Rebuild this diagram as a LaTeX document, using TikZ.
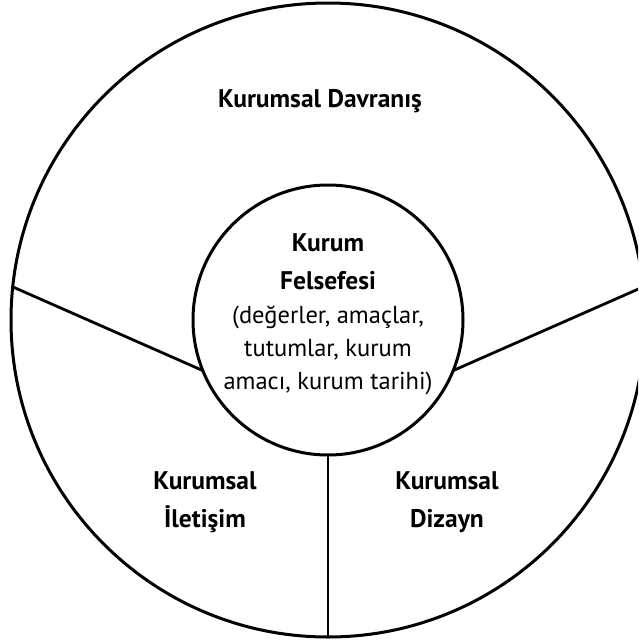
\documentclass[tikz,border=0pt]{standalone}
\usepackage{fontspec}
\setmainfont{PT Sans}
\begin{document}
\begin{tikzpicture}[x=1pt,y=1pt,
  ring/.style={circle,draw,line width=3pt,inner sep=0pt,outer sep=0pt},
  divider/.style={line width=2.8pt},
  heading/.style={font=\fontsize{25.5}{38}\selectfont\bfseries,align=center,inner sep=0pt},
  body/.style={font=\fontsize{24.5}{33}\selectfont,align=center,inner sep=0pt}]
\useasboundingbox (0,-643) rectangle (638,0);
\clip (0,-643) rectangle (638,0);
% outer and inner circles
\node[ring,minimum size=634pt] (outer) at (328,-320) {};
\node[ring,minimum size=270pt] (inner) at (328,-320) {};
% dividers between the three outer sectors
\draw[divider] (inner.270) -- (outer.270);
\draw[divider] (inner.202) -- (outer.174);
\draw[divider] (inner.-22) -- (outer.6);
% labels
\node[heading] (davranis) at (320,-101) {Kurumsal Davranış};
\node[heading] (iletisim) at (205,-502) {Kurumsal\\İletişim};
\node[heading] (dizayn) at (447,-502) {Kurumsal\\Dizayn};
\node[heading] (felsefe) at (328,-262) {Kurum\\Felsefesi};
\node[body] (detail) at (328,-350) {(değerler, amaçlar,\\tutumlar, kurum\\amacı, kurum tarihi)};
\end{tikzpicture}
\end{document}
